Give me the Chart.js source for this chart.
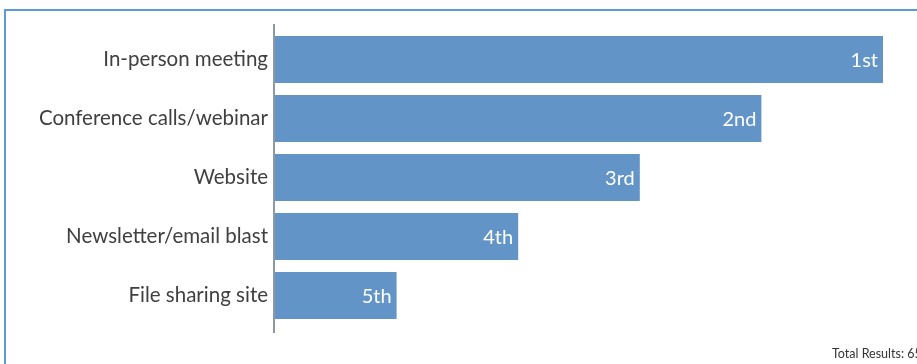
<!DOCTYPE html>
<html lang="en">
<head>
<meta charset="UTF-8" />
<title>Preferred communication channels</title>
<script src="https://cdn.jsdelivr.net/npm/chart.js"></script>
<style>
  html, body { margin: 0; padding: 0; background: #fff; }
  .frame { position: relative; width: 917px; height: 364px; overflow: hidden; }
  .frame .top { position: absolute; left: 4px; top: 9px; right: 0; height: 2px; background: #5b9bd5; }
  .frame .left { position: absolute; left: 4px; top: 9px; bottom: 0; width: 2px; background: #5b9bd5; }
  canvas { position: absolute; left: 0; top: 0; }
  .total { position: absolute; left: 832px; top: 346px; font: 12.5px Lato, sans-serif; color: #333; white-space: nowrap; }
</style>
</head>
<body>
<div class="frame">
  <div class="top"></div>
  <div class="left"></div>
  <canvas id="chart" width="917" height="364"></canvas>
  <div class="total">Total Results: 65</div>
</div>

<script>
  // categorias y puntuacion (5 = primer lugar)
  const channels = ['In-person meeting', 'Conference calls/webinar', 'Website', 'Newsletter/email blast', 'File sharing site'];
  const scores = [5, 4, 3, 2, 1];
  const ranks = ['1st', '2nd', '3rd', '4th', '5th'];

  // etiqueta de rango dentro de cada barra
  const rankLabels = {
    id: 'rankLabels',
    afterDatasetsDraw(chart) {
      const ctx = chart.ctx;
      const meta = chart.getDatasetMeta(0);
      ctx.save();
      ctx.font = '20px Lato, sans-serif';
      ctx.fillStyle = '#ffffff';
      ctx.textAlign = 'right';
      ctx.textBaseline = 'middle';
      meta.data.forEach((bar, i) => {
        ctx.fillText(ranks[i], bar.x - 5, bar.y + 1);
      });
      ctx.restore();
    }
  };

  // linea del eje vertical, un poco mas larga que el area
  const axisLine = {
    id: 'axisLine',
    afterDraw(chart) {
      const a = chart.chartArea;
      const ctx = chart.ctx;
      ctx.save();
      ctx.strokeStyle = '#8d9aa6';
      ctx.lineWidth = 2;
      ctx.beginPath();
      ctx.moveTo(a.left - 1, a.top - 6);
      ctx.lineTo(a.left - 1, a.bottom + 8);
      ctx.stroke();
      ctx.restore();
    }
  };

  new Chart(document.getElementById('chart').getContext('2d'), {
    type: 'bar',
    data: {
      labels: channels,
      datasets: [{
        data: scores,
        backgroundColor: '#6394c7',
        barPercentage: 0.8,
        categoryPercentage: 1
      }]
    },
    options: {
      indexAxis: 'y',
      responsive: false,
      animation: false,
      layout: { padding: { top: 30, bottom: 39, right: 34, left: 0 } },
      scales: {
        x: { display: false, min: 0, max: 5 },
        y: {
          grid: { display: false },
          border: { display: false },
          ticks: { color: '#404040', font: { family: 'Lato', size: 20.5 }, padding: -1 },
          afterFit(scale) { scale.width = 275; }
        }
      },
      plugins: {
        legend: { display: false },
        tooltip: { enabled: false }
      }
    },
    plugins: [rankLabels, axisLine]
  });
</script>
</body>
</html>
